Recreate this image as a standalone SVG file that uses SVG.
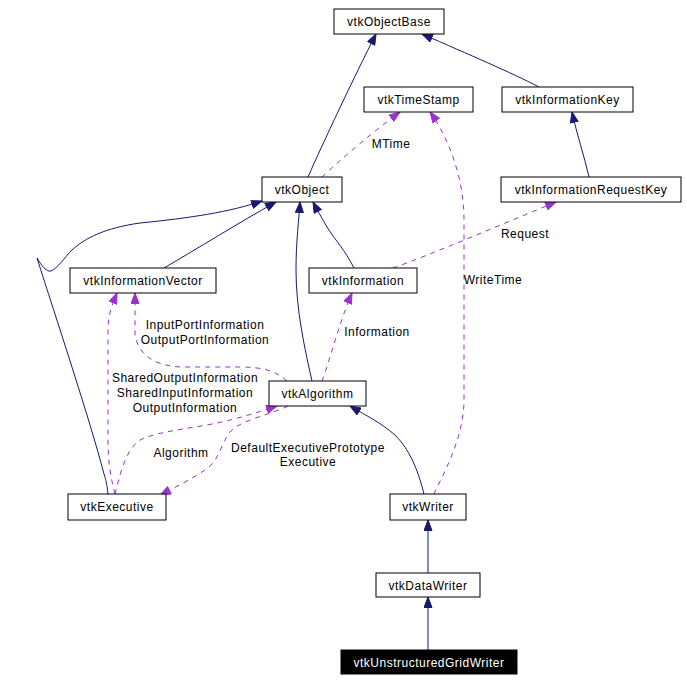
<svg xmlns="http://www.w3.org/2000/svg" width="687" height="682" viewBox="0 0 687 682">
<defs>
<style>
.box{fill:#fff;stroke:#000;stroke-width:1}
.t{font-family:"Liberation Sans",Arial,sans-serif;font-size:12px;letter-spacing:0.5px;text-anchor:middle;fill:#000}
.inh{fill:none;stroke:#191970;stroke-width:1}
.use{fill:none;stroke:#9a32cd;stroke-width:1;stroke-dasharray:5,5}
</style>
<marker id="an" markerUnits="userSpaceOnUse" markerWidth="12" markerHeight="9" refX="11" refY="4.5" orient="auto" viewBox="0 0 12 9"><path d="M0.5,0.5 L11,4.5 L0.5,8.5 z" fill="#191970" stroke="#191970"/></marker>
<marker id="ap" markerUnits="userSpaceOnUse" markerWidth="12" markerHeight="9" refX="11" refY="4.5" orient="auto" viewBox="0 0 12 9"><path d="M0.5,0.5 L11,4.5 L0.5,8.5 z" fill="#9a32cd" stroke="#9a32cd"/></marker>
</defs>
<rect width="687" height="682" fill="#fff"/>
<g id="edges">
<path class="inh" marker-end="url(#an)" d="M308,177 C322,145 355,75 376,34"/>
<path class="inh" marker-end="url(#an)" d="M539,87 C510,72 470,55 422,34"/>
<path class="inh" marker-end="url(#an)" d="M589,177 C584,155 577,135 572,112"/>
<path class="inh" marker-end="url(#an)" d="M164,268 C195,250 240,222 276,202"/>
<path class="inh" marker-end="url(#an)" d="M108,494 C107,485 106,480 104,474 C90,420 55,315 37,258 C42,266 46,272 51,271 C58,268 64,258 72,250 C85,238 105,228 140,223 C190,218 230,212 262,201"/>
<path class="inh" marker-end="url(#an)" d="M312,381 C305,350 296,310 296,270 C296,240 299,220 300,202"/>
<path class="inh" marker-end="url(#an)" d="M354,268 C345,250 335,240 327,227 C322,218 317,210 313,202"/>
<path class="inh" marker-end="url(#an)" d="M424,494 C418,470 410,450 395,435 C380,422 365,415 350,406"/>
<path class="inh" marker-end="url(#an)" d="M428,573 L428,520"/>
<path class="inh" marker-end="url(#an)" d="M428,650 L428,597"/>
<path class="use" marker-end="url(#ap)" d="M322,177 C340,160 375,130 400,112"/>
<path class="use" marker-end="url(#ap)" d="M434,494 C440,480 464,440 464,400 L464,220 C464,180 450,140 430,112"/>
<path class="use" marker-end="url(#ap)" d="M393,268 C430,255 500,225 556,202"/>
<path class="use" marker-end="url(#ap)" d="M322,381 C330,360 340,320 352,293"/>
<path class="use" marker-end="url(#ap)" d="M287,381 C275,370 260,367 240,367 L180,367 C150,365 138,352 135,335 L135,293"/>
<path class="use" marker-end="url(#ap)" d="M115,494 C110,475 108,460 108,440 L108,330 C108,315 112,305 117,293"/>
<path class="use" marker-end="url(#ap)" d="M115,494 C120,475 125,450 140,440 C160,430 200,428 230,420 C250,415 265,410 277,406"/>
<path class="use" marker-end="url(#ap)" d="M288,406 C270,415 240,420 230,432 C220,445 220,460 205,470 C190,480 170,490 160,495"/>
</g>
<g id="edge-labels">
<text class="t" x="391" y="148">MTime</text>
<text class="t" x="493" y="284">WriteTime</text>
<text class="t" x="525" y="238">Request</text>
<text class="t" x="377" y="336">Information</text>
<text class="t" x="205" y="329">InputPortInformation</text>
<text class="t" x="205" y="344">OutputPortInformation</text>
<text class="t" x="185" y="382">SharedOutputInformation</text>
<text class="t" x="185" y="397">SharedInputInformation</text>
<text class="t" x="185" y="412">OutputInformation</text>
<text class="t" x="181" y="457">Algorithm</text>
<text class="t" x="308" y="452">DefaultExecutivePrototype</text>
<text class="t" x="308" y="466">Executive</text>
</g>
<g id="vtkObjectBase"><rect class="box" x="334" y="9" width="110" height="25"/><text class="t" x="389" y="26">vtkObjectBase</text></g>
<g id="vtkTimeStamp"><rect class="box" x="364" y="87" width="109" height="25"/><text class="t" x="418.5" y="104">vtkTimeStamp</text></g>
<g id="vtkInformationKey"><rect class="box" x="502" y="87" width="131" height="25"/><text class="t" x="567.5" y="104">vtkInformationKey</text></g>
<g id="vtkObject"><rect class="box" x="262" y="177" width="80" height="25"/><text class="t" x="302" y="194">vtkObject</text></g>
<g id="vtkInformationRequestKey"><rect class="box" x="501" y="177" width="180" height="25"/><text class="t" x="591" y="194">vtkInformationRequestKey</text></g>
<g id="vtkInformationVector"><rect class="box" x="70" y="268" width="146" height="25"/><text class="t" x="143" y="285">vtkInformationVector</text></g>
<g id="vtkInformation"><rect class="box" x="309" y="268" width="108" height="25"/><text class="t" x="363" y="285">vtkInformation</text></g>
<g id="vtkAlgorithm"><rect class="box" x="269" y="381" width="97" height="25"/><text class="t" x="317.5" y="398">vtkAlgorithm</text></g>
<g id="vtkExecutive"><rect class="box" x="68" y="494" width="98" height="26"/><text class="t" x="117" y="511">vtkExecutive</text></g>
<g id="vtkWriter"><rect class="box" x="390" y="494" width="76" height="26"/><text class="t" x="428" y="511">vtkWriter</text></g>
<g id="vtkDataWriter"><rect class="box" x="376" y="573" width="104" height="24"/><text class="t" x="428" y="590">vtkDataWriter</text></g>
<g id="vtkUnstructuredGridWriter"><rect x="341" y="650" width="176" height="24" fill="#000" stroke="#000"/><text class="t" x="429" y="667" style="fill:#fff">vtkUnstructuredGridWriter</text></g>
</svg>
